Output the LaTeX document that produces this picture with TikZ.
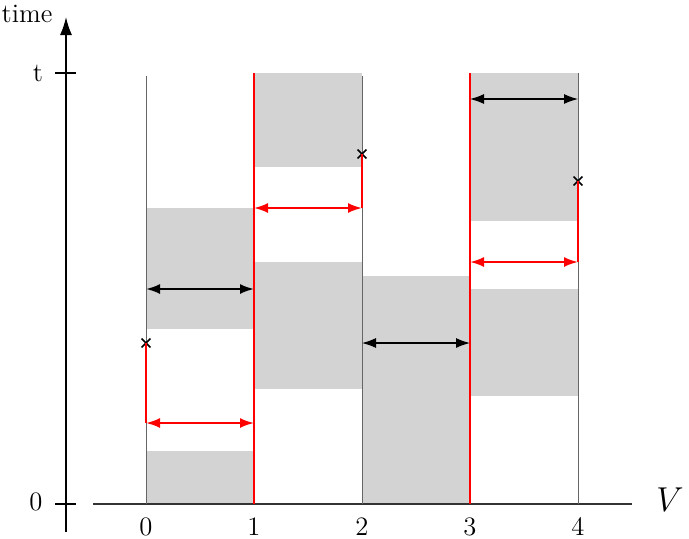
\documentclass[tikz,border=0pt]{standalone}
\usetikzlibrary{arrows.meta,shapes.misc}
\definecolor{shade}{rgb}{0.827,0.827,0.827}
\tikzset{every picture/.style={line width=0.75pt}}
\newcommand{\labfont}{\fontsize{13.3}{15}\selectfont}

\begin{document}
\begin{tikzpicture}[x=0.5pt,y=0.5pt,yscale=-1,xscale=1,
  block/.style={fill=shade, draw=none},
  gridline/.style={draw=black!60, line width=0.5pt},
  redline/.style={draw=red, line width=1pt},
  span/.style={{Latex[length=7pt,width=5pt]}-{Latex[length=7pt,width=5pt]}},
  jumpmark/.style={cross out, draw=black, line width=0.8pt, minimum size=3.6pt, inner sep=0pt}]
\useasboundingbox (0,0) rectangle (689,538);

%Shaded blocks
\path[block] (146,451) rectangle (254,504);
\path[block] (146,208) rectangle (254,329);
\path[block] (254,262) rectangle (362,389);
\path[block] (254,73) rectangle (362,167);
\path[block] (362,276) rectangle (470,504);
\path[block] (470,289) rectangle (578,396);
\path[block] (470,73) rectangle (578,221);

%Axes
\coordinate (yb) at (66,532);
\coordinate (yt) at (66,17);
\coordinate (xl) at (93,504);
\coordinate (xr) at (632,504);
\draw[-{Latex[length=9pt,width=6pt]}, line width=0.75pt] (yb) -- (yt);
\draw[line width=0.75pt, black!80] (xl) -- (xr);
\draw[line width=0.6pt] (55,73) -- (76,73);
\draw[line width=0.6pt] (55,504) -- (76,504);

% Text Node
\node (time) at (27,14) {\labfont time};
\node (tlab) at (38,73) {\labfont t};
\node (zlab) at (36,502) {\labfont 0};
\node (vlab) at (670,500) {\LARGE $V$};
\foreach \k in {0,...,4}
  \node (n\k) at (146+108*\k,527) {\labfont \k};

%Vertical lines
\draw[gridline] (146,504) -- (146,76);
\draw[gridline] (362,504) -- (362,76);
\draw[gridline] (578,504) -- (578,73);
\draw[redline] (254,504) -- (254,73);
\draw[redline] (470,504) -- (470,73);

%Crosses
\node[jumpmark] (m0) at (146,343) {};
\node[jumpmark] (m2) at (362,154) {};
\node[jumpmark] (m4) at (578,181) {};

%Red jumps
\coordinate (r0) at (146,423);
\coordinate (r1) at (254,423);
\coordinate (r2) at (362,208);
\coordinate (r3) at (254,208);
\coordinate (r4) at (578,262);
\coordinate (r5) at (470,262);
\draw[redline] (m0.center) -- (r0);
\draw[redline] (m2.center) -- (r2);
\draw[redline] (m4.center) -- (r4);
\draw[redline, span] (r0) -- (r1);
\draw[redline, span] (r3) -- (r2);
\draw[redline, span] (r5) -- (r4);

%Black spans
\coordinate (b0) at (146,289);
\coordinate (b1) at (254,289);
\coordinate (b2) at (362,343);
\coordinate (b3) at (470,343);
\coordinate (b4) at (470,99);
\coordinate (b5) at (578,99);
\draw[span, line width=1pt] (b0) -- (b1);
\draw[span, line width=0.6pt] (b2) -- (b3);
\draw[span, line width=0.6pt] (b4) -- (b5);

\end{tikzpicture}
\end{document}
